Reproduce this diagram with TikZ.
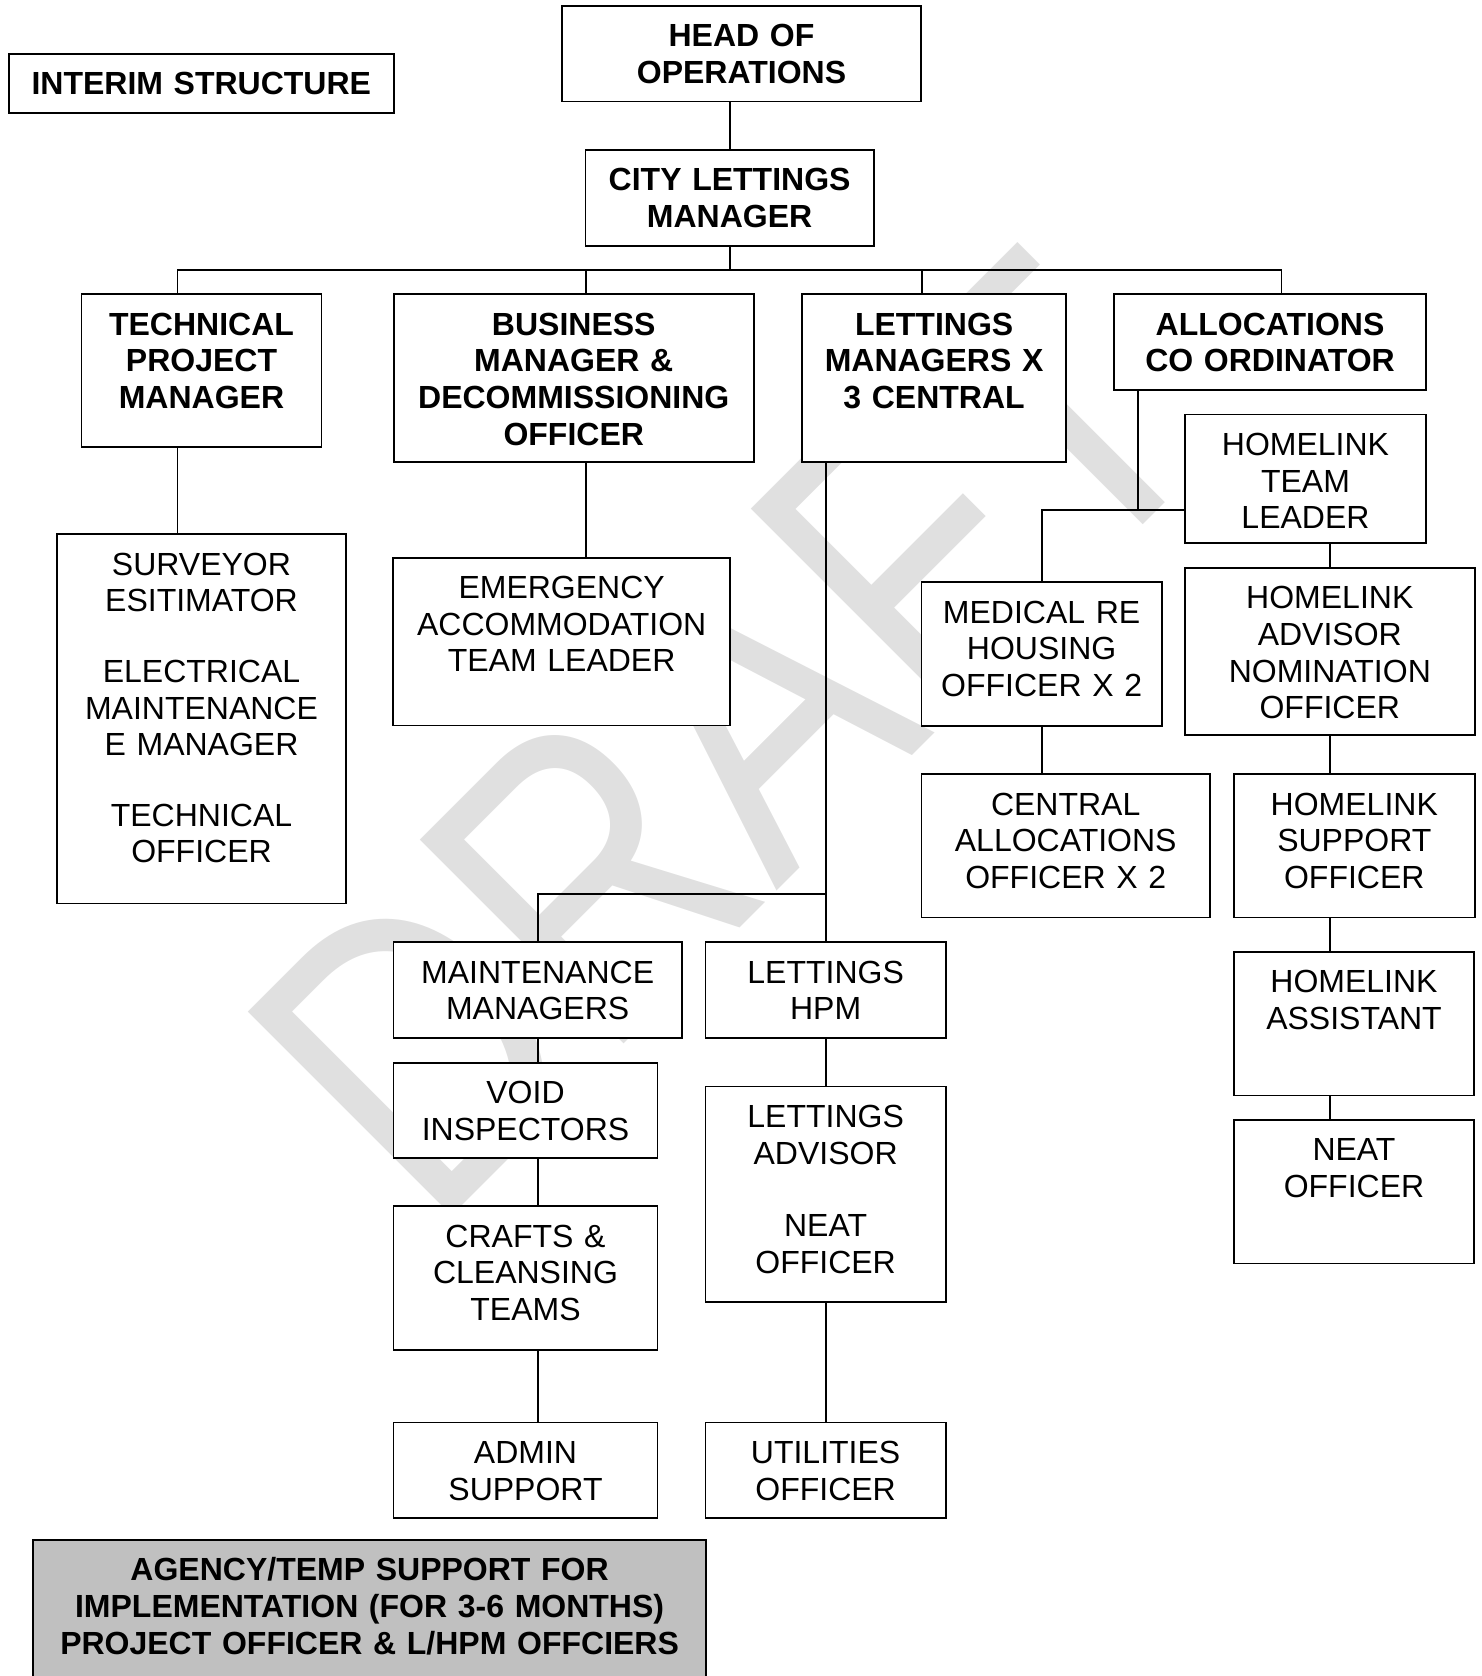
\documentclass[tikz,border=0pt]{standalone}
\usepackage{fontspec}
\setmainfont{Liberation Sans}
\usepackage{graphicx}
\definecolor{agencygrey}{HTML}{C0C0C0}

\begin{document}
\begin{tikzpicture}[x=0.5pt, y=-0.5pt,
	unit/.style 2 args={draw, fill=white, line width=0.9pt, anchor=north, align=center, inner xsep=0pt, inner ysep=9pt, text height=11.5pt, text width=#1, text depth=#2, font=\fontsize{16}{18.3}\selectfont},
	lead/.style={font=\fontsize{16}{18.3}\selectfont\bfseries},
	link/.style={line width=0.9pt}]
		\useasboundingbox (0,0) rectangle (1482,1676);
		\node[text=black!12, font=\fontsize{209.5}{210}\selectfont, rotate=45, anchor=base west, inner sep=0pt] (0) at (432,1236) {\scalebox{0.805}[1]{DRAFT}};
		\node[unit={179.5pt}{18.25pt}, lead] (1) at (741.5,5) {HEAD OF\\OPERATIONS};
		\node[unit={144.1pt}{18.4pt}, lead] (2) at (729.6,149) {CITY LETTINGS\\MANAGER};
		\node[unit={120pt}{46.95pt}, lead] (3) at (201.5,293.3) {TECHNICAL\\PROJECT\\MANAGER};
		\node[unit={179.95pt}{54.25pt}, lead] (4) at (573.75,293.3) {BUSINESS\\MANAGER \&\\DECOMMISSIONING\\OFFICER};
		\node[unit={131.9pt}{54.15pt}, lead] (5) at (934.1,293.4) {LETTINGS\\MANAGERS X\\3 CENTRAL};
		\node[unit={156pt}{18.15pt}, lead] (6) at (1270,293.4) {ALLOCATIONS\\CO ORDINATOR};
		\node[unit={144.5pt}{155.1pt}] (7) at (201.5,533.3) {SURVEYOR\\ESITIMATOR\\[17pt]ELECTRICAL\\MAINTENANCE\\E MANAGER\\[17pt]TECHNICAL\\OFFICER};
		\node[unit={168.35pt}{54.4pt}] (8) at (561.65,556.7) {EMERGENCY\\ACCOMMODATION\\TEAM LEADER};
		\node[unit={120.5pt}{34.85pt}] (9) at (1305.5,413.5) {HOMELINK\\TEAM\\LEADER};
		\node[unit={120.2pt}{42.25pt}] (10) at (1041.6,581.3) {MEDICAL RE\\HOUSING\\OFFICER X 2};
		\node[unit={144.8pt}{53.95pt}] (11) at (1329.8,567) {HOMELINK\\ADVISOR\\NOMINATION\\OFFICER};
		\node[unit={144.3pt}{42.05pt}] (12) at (1065.7,773.4) {CENTRAL\\ALLOCATIONS\\OFFICER X 2};
		\node[unit={120.3pt}{42.05pt}] (13) at (1354.3,773.4) {HOMELINK\\SUPPORT\\OFFICER};
		\node[unit={120pt}{42.25pt}] (14) at (1354,951) {HOMELINK\\ASSISTANT};
		\node[unit={120pt}{42.25pt}] (15) at (1354,1119) {NEAT\\OFFICER};
		\node[unit={144.15pt}{18.25pt}] (16) at (537.65,941.4) {MAINTENANCE\\MANAGERS};
		\node[unit={120.2pt}{18.25pt}] (17) at (825.6,941.4) {LETTINGS\\HPM};
		\node[unit={132pt}{18.25pt}] (18) at (525.5,1061.7) {VOID\\INSPECTORS};
		\node[unit={132pt}{42.3pt}] (19) at (525.5,1205.4) {CRAFTS \&\\CLEANSING\\TEAMS};
		\node[unit={132pt}{18.25pt}] (20) at (525.5,1421.6) {ADMIN\\SUPPORT};
		\node[unit={120.2pt}{78.1pt}] (21) at (825.6,1085.6) {LETTINGS\\ADVISOR\\[18pt]NEAT\\OFFICER};
		\node[unit={120.2pt}{18.25pt}] (22) at (825.6,1421.6) {UTILITIES\\OFFICER};
		\node[unit={192.7pt}{0pt}, lead] (23) at (201.3,52.7) {INTERIM STRUCTURE};
		\node[unit={336.4pt}{50pt}, lead, fill=agencygrey] (24) at (369.6,1538.9) {AGENCY/TEMP SUPPORT FOR\\IMPLEMENTATION (FOR 3-6 MONTHS)\\PROJECT OFFICER \& L/HPM OFFCIERS};
		\coordinate (bus) at ([yshift=-11.6pt]2.south);
		\coordinate (aj) at ([xshift=-66pt, yshift=-59.9pt]6.south);
		\draw[link] (2.north) -- (2.north |- 1.south);
		\draw[link] (2.south) -- (bus);
		\draw[link] ([xshift=-12pt]3.north) |- ([xshift=5.75pt]6.north |- bus) -- ([xshift=5.75pt]6.north);
		\draw[link] ([xshift=6.1pt]4.north) -- ([xshift=6.1pt]4.north |- bus);
		\draw[link] ([xshift=-6pt]5.north) -- ([xshift=-6pt]5.north |- bus);
		\draw[link] ([xshift=-12pt]3.south) -- ([xshift=-12pt]3.south |- 7.north);
		\draw[link] ([xshift=6.1pt]4.south) -- ([xshift=6.1pt]4.south |- 8.north);
		\draw[link] (17.north) -- (17.north |- 5.south);
		\draw[link] (16.north) |- ([yshift=23.7pt]17.north);
		\draw[link] (16.south) -- (16.south |- 18.north);
		\draw[link] (16.south |- 18.south) -- (16.south |- 19.north);
		\draw[link] (16.south |- 19.south) -- (16.south |- 20.north);
		\draw[link] (17.south) -- (17.south |- 21.north);
		\draw[link] (17.south |- 21.south) -- (17.south |- 22.north);
		\draw[link] ([xshift=-66pt]6.south) -- (aj);
		\draw[link] (10.north) |- (9.west |- aj);
		\draw[link] (11.north) -- (11.north |- 9.south);
		\draw[link] (11.south) -- (11.south |- 13.north);
		\draw[link] (11.south |- 13.south) -- (11.south |- 14.north);
		\draw[link] (11.south |- 14.south) -- (11.south |- 15.north);
		\draw[link] (10.south) -- (10.south |- 12.north);
\end{tikzpicture}
\end{document}
